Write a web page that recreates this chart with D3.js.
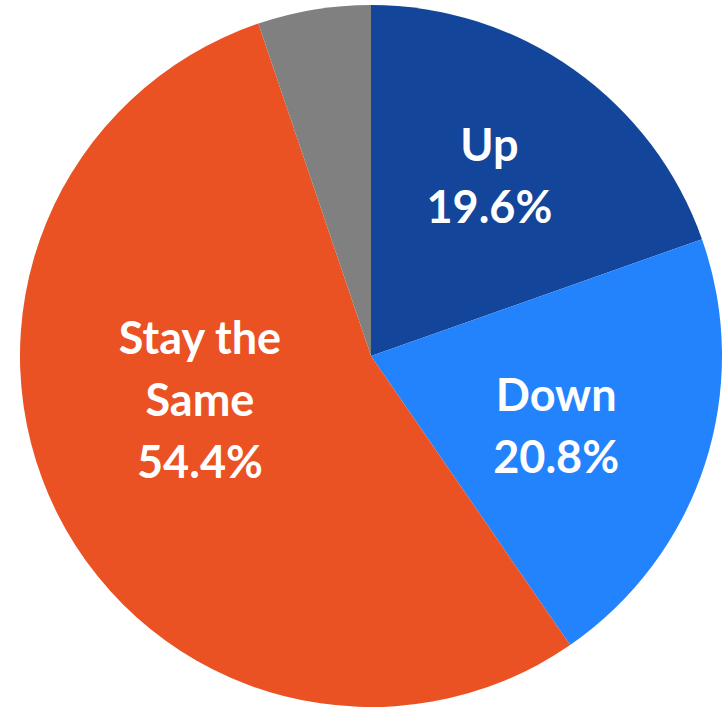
<!DOCTYPE html>
<html><head><meta charset="utf-8">
<script src="https://cdn.jsdelivr.net/npm/d3@7"></script>
<style>html,body{margin:0;padding:0;background:#fff;}svg{display:block;}</style>
</head><body>
<svg id="chart" width="723" height="708"></svg>
<script>
const categories = ["Up", "Down", "Stay the Same", "Other"];
const values = [19.6, 20.8, 54.4, 5.2];
const labelLines = [["Up", "19.6%"], ["Down", "20.8%"], ["Stay the", "Same", "54.4%"], []];
const colors = ["#13469A", "#2383FC", "#EA5123", "#808080"];

const W = 723, H = 708, cx = 371, cy = 356, R = 351;
const svg = d3.select("#chart");
const g = svg.append("g").attr("transform", `translate(${cx},${cy})`);

const pie = d3.pie().value(d => d).sort(null);
const arcs = pie(values);
const arc = d3.arc().innerRadius(0).outerRadius(R);

g.selectAll("path").data(arcs).enter().append("path")
  .attr("d", arc)
  .attr("fill", (d, i) => colors[i]);

// label placement: centre of text block in polar coords relative to pie centre
const labelPos = [
  {a: 0.585, r: 0.611},
  {a: 1.937, r: 0.565},
  {a: 4.455, r: 0.504},
  null
];
const lineH = 62;
arcs.forEach((d, i) => {
  const lines = labelLines[i];
  if (!lines.length) return;
  const p = labelPos[i];
  const x = Math.sin(p.a) * p.r * R;
  const y = -Math.cos(p.a) * p.r * R;
  const t = g.append("text")
    .attr("text-anchor", "middle")
    .attr("fill", "#fff")
    .attr("font-family", "Lato, 'Open Sans', sans-serif")
    .attr("font-weight", "bold")
    .attr("font-size", 45);
  const n = lines.length;
  lines.forEach((s, k) => {
    t.append("tspan")
      .attr("x", x)
      .attr("y", y + (k - (n - 1) / 2) * lineH + 15)
      .text(s);
  });
});
</script>
</body></html>
